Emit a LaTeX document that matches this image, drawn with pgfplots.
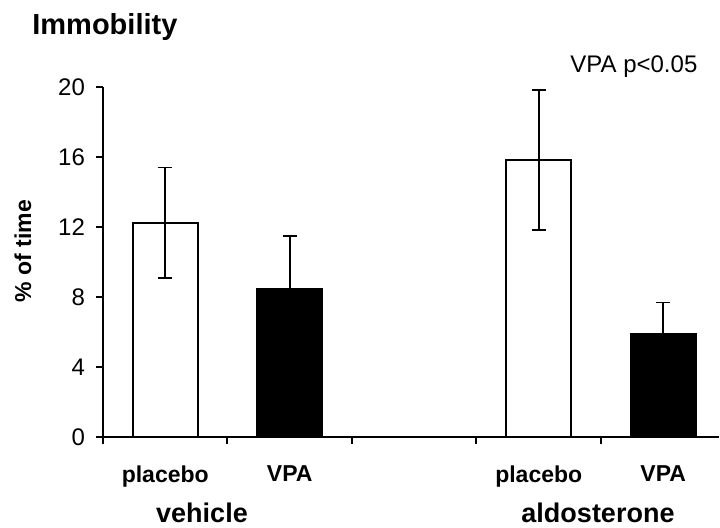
\documentclass[border=0pt]{standalone}
\usepackage{fontspec}
\setmainfont{Liberation Sans}
\usepackage{pgfplots}
\pgfplotsset{compat=1.18}
\begin{document}
\begin{tikzpicture}
\useasboundingbox (0,0) rectangle (360pt,264pt);
\begin{axis}[
  at={(51.5pt,45.5pt)}, anchor=south west,
  scale only axis, width=308pt, height=175pt,
  xmin=-0.5, xmax=4.448, ymin=0, ymax=20,
  axis x line*=bottom, axis y line*=left,
  axis line style={line width=1pt, -},
  tick align=outside,
  major tick length=3.5pt,
  tick style={line width=1pt, black},
  ytick={0,4,8,12,16,20},
  /pgf/number format/assume math mode=true,
  yticklabel style={font=\fontsize{12}{14}\selectfont, xshift=-2pt},
  xtick={-0.5,0.5,1.5,2.5,3.5},
  xticklabels={},
  extra x ticks={0,1,3,4},
  extra x tick labels={placebo,VPA,placebo,VPA},
  extra x tick style={major tick length=0pt,
    xticklabel style={font=\bfseries\fontsize{11.5}{14}\selectfont, yshift=-11pt}},
  ybar, bar shift=0pt, bar width=32.5pt,
  clip=false,
]
\addplot[draw=black, line width=1pt, fill=white,
  error bars/.cd, y dir=both, y explicit,
  error bar style={line width=0.8pt, black},
  error mark options={rotate=90, line width=0.8pt, mark size=3.5pt, black}]
  coordinates {(0,12.25) +- (0,3.15) (3,15.83) +- (0,4.0)};
\addplot[draw=black, line width=1pt, fill=black,
  error bars/.cd, y dir=both, y explicit,
  error bar style={line width=0.8pt, black},
  error mark options={rotate=90, line width=0.8pt, mark size=3.5pt, black}]
  coordinates {(1,8.48) +- (0,3.0) (4,5.89) +- (0,1.8)};
\end{axis}
\node[anchor=base west, inner sep=0pt, font=\bfseries\fontsize{14.5}{17}\selectfont] at (16pt,246.5pt) {Immobility};
\node[anchor=base west, inner sep=0pt, font=\fontsize{12}{14}\selectfont] at (285pt,227.5pt) {VPA p<0.05};
\node[rotate=90, inner sep=0pt, font=\bfseries\fontsize{11.5}{14}\selectfont] at (11.5pt,138.5pt) {\% of time};
\node[anchor=base, inner sep=0pt, font=\bfseries\fontsize{13.5}{16}\selectfont] at (101pt,2.5pt) {vehicle};
\node[anchor=base, inner sep=0pt, font=\bfseries\fontsize{13.5}{16}\selectfont] at (299pt,2.5pt) {aldosterone};
\end{tikzpicture}
\end{document}
